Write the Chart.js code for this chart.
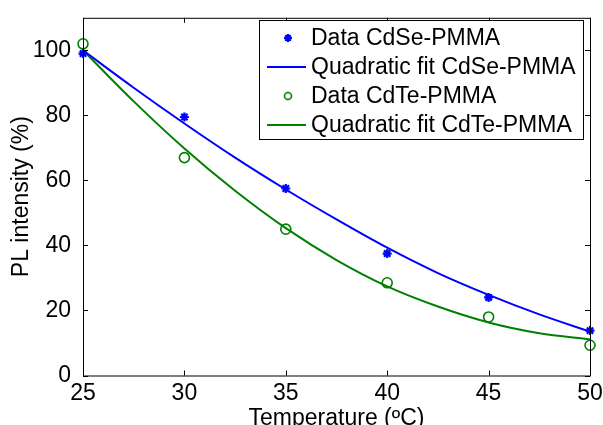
<!DOCTYPE html>
<html>
<head>
<meta charset="utf-8">
<script src="https://cdn.jsdelivr.net/npm/chart.js@4/dist/chart.umd.min.js"></script>
<style>
  html, body { margin: 0; padding: 0; background: #fff; }
  #wrap { width: 603px; height: 425px; }
</style>
</head>
<body>
<div id="wrap"><canvas id="plChart"></canvas></div>
<script>
/* ═══════════════════════════════════════════════
   PL INTENSITY vs TEMPERATURE
═══════════════════════════════════════════════ */
const temps = [25, 30, 35, 40, 45, 50];
const dataCdSe = [99, 79.5, 57.5, 37.5, 24, 13.8];
const dataCdTe = [102, 67, 45, 28.5, 18, 9.3];

// fit curves, every 2.5 °C
const fitTemps = [25, 27.5, 30, 32.5, 35, 37.5, 40, 42.5, 45, 47.5, 50];
const fitCdSe = [100, 88.5, 77.5, 67, 57.2, 48, 39.3, 31.5, 24.8, 18.8, 13.5];
const fitCdTe = [100, 84.3, 69.8, 56.8, 45.3, 35.5, 27.4, 21.2, 16.3, 13, 11.1];

const xTicks = [25, 30, 35, 40, 45, 50];
const yTicks = [0, 20, 40, 60, 80, 100];

const FONT = "'Liberation Sans', Arial, sans-serif";
const FSIZE = 23;
const BLUE = '#0000ff';
const GREEN = '#008000';

const pts = (xs, ys) => xs.map((x, i) => ({ x, y: ys[i] }));

// box + inward tick marks on all four sides (MATLAB style)
const boxPlugin = {
  id: 'box',
  afterDraw(chart) {
    const { ctx, chartArea: a, scales: { x, y } } = chart;
    ctx.save();
    ctx.strokeStyle = '#000';
    ctx.lineWidth = 1;
    ctx.strokeRect(a.left + 0.5, a.top + 0.5, a.right - a.left, a.bottom - a.top);
    ctx.beginPath();
    xTicks.forEach(v => {
      const px = Math.round(x.getPixelForValue(v)) + 0.5;
      ctx.moveTo(px, a.bottom); ctx.lineTo(px, a.bottom - 5);
      ctx.moveTo(px, a.top); ctx.lineTo(px, a.top + 5);
    });
    yTicks.forEach(v => {
      const py = Math.round(y.getPixelForValue(v)) + 0.5;
      ctx.moveTo(a.left, py); ctx.lineTo(a.left + 5, py);
      ctx.moveTo(a.right, py); ctx.lineTo(a.right - 5, py);
    });
    ctx.stroke();
    ctx.restore();
  }
};

// boxed legend in the top right corner
const legendPlugin = {
  id: 'boxLegend',
  afterDraw(chart) {
    const ctx = chart.ctx;
    const L = 259.5, T = 20.5, W = 324, H = 119, row = 29;
    ctx.save();
    ctx.fillStyle = '#fff';
    ctx.fillRect(L, T, W, H);
    ctx.strokeStyle = '#000';
    ctx.lineWidth = 1;
    ctx.strokeRect(L, T, W, H);
    ctx.font = FSIZE + 'px ' + FONT;
    ctx.textBaseline = 'middle';
    chart.data.datasets.forEach((ds, i) => {
      const cy = T + 17.5 + i * row;
      ctx.strokeStyle = ds.borderColor;
      if (ds.showLine) {
        ctx.lineWidth = ds.borderWidth;
        ctx.beginPath();
        ctx.moveTo(267, cy); ctx.lineTo(306, cy);
        ctx.stroke();
      } else {
        ctx.fillStyle = ds.backgroundColor;
        ctx.lineWidth = ds.pointBorderWidth;
        Chart.helpers.drawPoint(ctx, {
          pointStyle: ds.pointStyle,
          radius: ds.pointStyle === 'star' ? 4 : 3.5,
          rotation: 0,
          borderWidth: ds.pointBorderWidth
        }, 288, cy);
      }
      ctx.fillStyle = '#000';
      ctx.fillText(ds.label, 311, cy + 1);
    });
    ctx.restore();
  }
};

new Chart(document.getElementById('plChart'), {
  type: 'scatter',
  data: {
    datasets: [
      {
        label: 'Data CdSe-PMMA',
        data: pts(temps, dataCdSe),
        showLine: false,
        pointStyle: 'star',
        pointRadius: 4.5,
        pointBorderWidth: 2.2,
        borderColor: BLUE,
        backgroundColor: BLUE,
        clip: false
      },
      {
        label: 'Quadratic fit CdSe-PMMA',
        data: pts(fitTemps, fitCdSe),
        showLine: true,
        pointRadius: 0,
        borderWidth: 2,
        borderColor: BLUE,
        cubicInterpolationMode: 'monotone'
      },
      {
        label: 'Data CdTe-PMMA',
        data: pts(temps, dataCdTe),
        showLine: false,
        pointStyle: 'circle',
        pointRadius: 5,
        pointBorderWidth: 1.6,
        borderColor: GREEN,
        backgroundColor: 'rgba(0,0,0,0)',
        clip: false
      },
      {
        label: 'Quadratic fit CdTe-PMMA',
        data: pts(fitTemps, fitCdTe),
        showLine: true,
        pointRadius: 0,
        borderWidth: 2,
        borderColor: GREEN,
        cubicInterpolationMode: 'monotone'
      }
    ]
  },
  options: {
    responsive: true,
    maintainAspectRatio: false,
    animation: false,
    layout: { padding: { left: 0, right: 13, top: 14, bottom: 0 } },
    plugins: {
      legend: { display: false },
      tooltip: { enabled: false }
    },
    scales: {
      x: {
        type: 'linear',
        min: 25,
        max: 50,
        afterBuildTicks: s => { s.ticks = xTicks.map(v => ({ value: v })); },
        afterFit: s => { s.height = 49.5; },
        grid: { display: false },
        border: { display: false },
        ticks: { color: '#000', padding: -4, maxRotation: 0, autoSkip: false, font: { size: FSIZE, family: FONT } },
        title: {
          display: true,
          text: 'Temperature (ºC)',
          color: '#000',
          padding: { top: 0, bottom: -7 },
          font: { size: FSIZE, family: FONT }
        }
      },
      y: {
        min: 0,
        max: 110,
        afterBuildTicks: s => { s.ticks = yTicks.map(v => ({ value: v })); },
        afterFit: s => { s.width = 83; },
        grid: { display: false },
        border: { display: false },
        ticks: { color: '#000', padding: 4, font: { size: FSIZE, family: FONT } },
        title: {
          display: true,
          text: 'PL intensity (%)',
          color: '#000',
          padding: { top: 8, bottom: 0 },
          font: { size: FSIZE, family: FONT }
        }
      }
    }
  },
  plugins: [boxPlugin, legendPlugin]
});
</script>
</body>
</html>
